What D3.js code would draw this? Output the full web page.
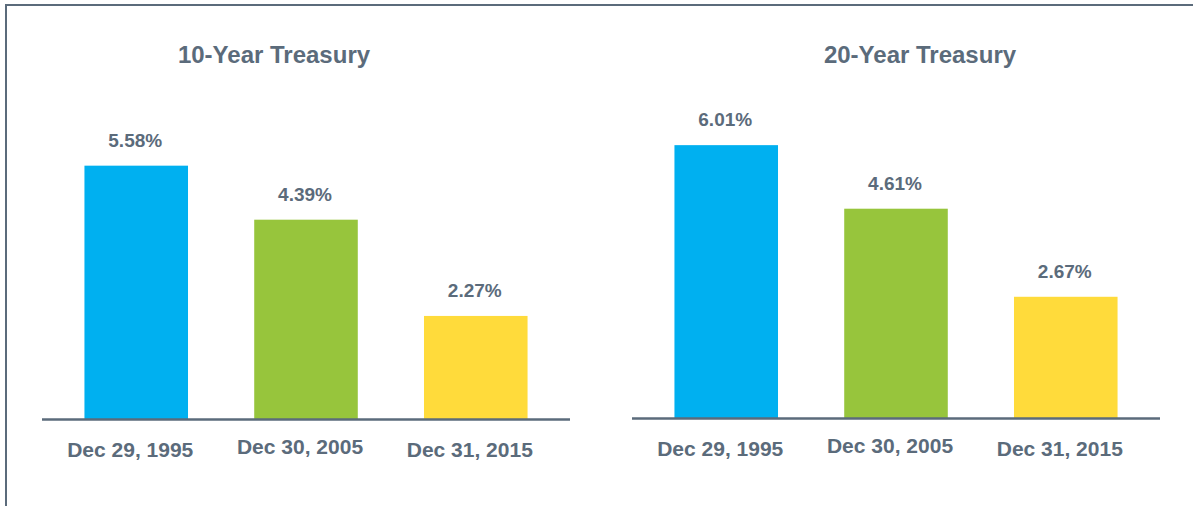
<!doctype html>
<html lang="en">
<head>
  <meta charset="utf-8">
  <title>Treasury yields</title>
  <script src="https://d3js.org/d3.v7.min.js"></script>
  <style>
    body { margin: 0; background: #fff; }
    svg text { font-family: Arial, "Liberation Sans", Helvetica, sans-serif; font-weight: bold; fill: #5b6b7b; }
  </style>
</head>
<body>
<div class="chart-container"></div>
<script>
  const dates = ['Dec 29, 1995', 'Dec 30, 2005', 'Dec 31, 2015'];
  const tenYear = [5.58, 4.39, 2.27];
  const twentyYear = [6.01, 4.61, 2.67];
  const barColours = ['#00b0f0', '#97c53c', '#ffdb3b'];

  const width = 1193;
  const height = 506;
  const ink = '#5b6b7b';
  const font = 'Arial, "Liberation Sans", Helvetica, sans-serif';

  const panels = [
    { title: '10-Year Treasury', values: tenYear, left: 42, right: 570, base: 419, titleX: 274 },
    { title: '20-Year Treasury', values: twentyYear, left: 632, right: 1160, base: 418, titleX: 920 }
  ];

  const svg = d3.select('.chart-container').append('svg')
    .attr('width', width)
    .attr('height', height);

  // frame: top and left edges only
  svg.append('line')
    .attr('x1', 5).attr('x2', width).attr('y1', 5).attr('y2', 5)
    .style('stroke', ink).style('stroke-width', 2);
  svg.append('line')
    .attr('x1', 6).attr('x2', 6).attr('y1', 4).attr('y2', height)
    .style('stroke', ink).style('stroke-width', 2);

  panels.forEach(p => {
    const g = svg.append('g');
    const rows = dates.map((d, i) => ({ date: d, value: p.values[i], colour: barColours[i] }));

    const x = d3.scaleBand()
      .domain(dates)
      .range([p.left, p.right])
      .paddingInner(0.39)
      .paddingOuter(0.25);

    const y = d3.scaleLinear()
      .domain([0, 6])
      .range([p.base, p.base - 272.4]);

    g.append('text')
      .attr('x', p.titleX)
      .attr('y', 63)
      .style('text-anchor', 'middle')
      .style('font-size', '24px')
      .text(p.title);

    g.selectAll('rect.bar')
      .data(rows)
      .enter()
      .append('rect')
      .attr('class', 'bar')
      .attr('x', d => x(d.date))
      .attr('width', x.bandwidth())
      .attr('y', d => y(d.value))
      .attr('height', d => y(0) - y(d.value))
      .style('fill', d => d.colour);

    g.selectAll('text.valueLabel')
      .data(rows)
      .enter()
      .append('text')
      .attr('class', 'valueLabel')
      .attr('x', d => x(d.date) + x.bandwidth() / 2 - 1)
      .attr('y', d => y(d.value) - 19)
      .style('text-anchor', 'middle')
      .style('font-size', '19px')
      .text(d => d3.format('.2f')(d.value) + '%');

    const axis = d3.axisBottom(x).tickSize(0).tickPadding(0);
    const ag = g.append('g')
      .attr('transform', `translate(0, ${p.base + 0.5})`)
      .call(axis);
    ag.select('.domain')
      .attr('d', `M${p.left},0H${p.right}`)
      .style('stroke', ink)
      .style('stroke-width', 2.5);
    ag.selectAll('.tick text')
      .attr('dy', null)
      .attr('x', -6)
      .attr('y', (d, i) => i === 1 ? 34 : 37.5)
      .style('font-size', '21px')
      .style('fill', ink)
      .style('font-family', font);
  });
</script>
</body>
</html>
